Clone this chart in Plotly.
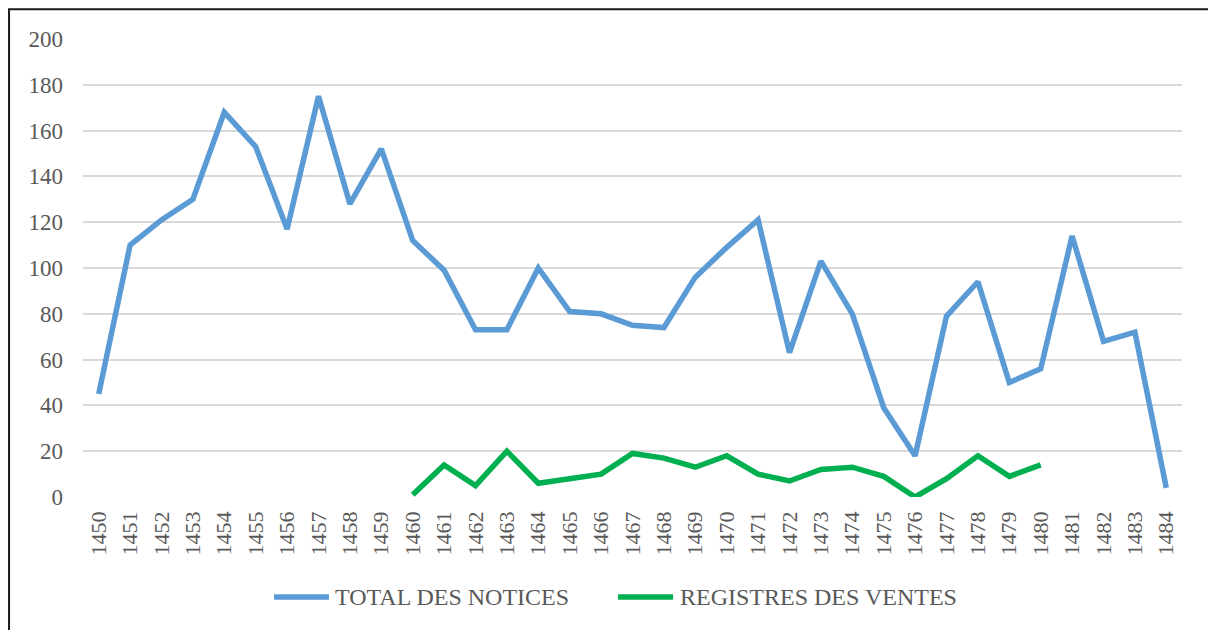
import plotly.graph_objects as go

years = list(range(1450, 1485))
total_notices = [45, 110, 121, 130, 168, 153, 117, 175, 128, 152,
                 112, 99, 73, 73, 100, 81, 80, 75, 74, 96,
                 109, 121, 63, 103, 80, 39, 18, 79, 94, 50,
                 56, 114, 68, 72, 4]
registre_years = list(range(1460, 1481))
registres_ventes = [1, 14, 5, 20, 6, 8, 10, 19, 17, 13,
                    18, 10, 7, 12, 13, 9, 0, 8, 18, 9, 14]
y_ticks = [0, 20, 40, 60, 80, 100, 120, 140, 160, 180, 200]
series_names = ["TOTAL DES NOTICES", "REGISTRES DES VENTES"]
series_colors = ["#5B9BD5", "#00B050"]

FONT = "Liberation Serif, Times New Roman, serif"
GREY = "#595959"

fig = go.Figure()
fig.add_trace(go.Scatter(x=years, y=total_notices, mode="lines",
                         name=series_names[0], showlegend=False,
                         line=dict(color=series_colors[0], width=5.5)))
fig.add_trace(go.Scatter(x=registre_years, y=registres_ventes, mode="lines",
                         name=series_names[1], showlegend=False,
                         line=dict(color=series_colors[1], width=5.5)))

# custom legend (paper coordinates) with long line samples
legend_y = -0.2182
legend_samples = [(0.1738, 0.2238, 0.2275), (0.4868, 0.5369, 0.5414)]
shapes = [dict(type="rect", xref="paper", yref="paper",
               x0=-0.0673, x1=1.03, y0=-0.32, y1=1.0648,
               line=dict(color="#1a1a1a", width=2), fillcolor="rgba(0,0,0,0)")]
annotations = []
for (sx0, sx1, tx), name, col in zip(legend_samples, series_names, series_colors):
    shapes.append(dict(type="line", xref="paper", yref="paper",
                       x0=sx0, x1=sx1, y0=legend_y, y1=legend_y,
                       line=dict(color=col, width=5.5)))
    annotations.append(dict(xref="paper", yref="paper", x=tx, y=legend_y,
                            xanchor="left", yanchor="middle", showarrow=False,
                            text=name, font=dict(family=FONT, size=24, color=GREY)))

fig.update_layout(
    width=1208, height=630,
    margin=dict(l=83, r=26, t=39, b=133),
    paper_bgcolor="white", plot_bgcolor="white",
    font=dict(family=FONT, color=GREY, size=22),
    showlegend=False,
    xaxis=dict(range=[1449.5, 1484.5], tickmode="array", tickvals=years,
               ticktext=[str(y) for y in years], tickangle=-90,
               showgrid=False, zeroline=False, showline=False, ticks="",
               ticklabelstandoff=9,
               tickfont=dict(family=FONT, size=22, color=GREY)),
    yaxis=dict(range=[0, 200], tickmode="array", tickvals=y_ticks,
               showgrid=True, gridcolor="#d9d9d9", gridwidth=1.5,
               zeroline=False, showline=False, ticks="",
               ticklabelstandoff=19,
               tickfont=dict(family=FONT, size=23, color=GREY)),
    shapes=shapes,
    annotations=annotations,
)

fig.write_html("out.html", config={"displayModeBar": False},
               post_script="document.body.style.margin='0';")
